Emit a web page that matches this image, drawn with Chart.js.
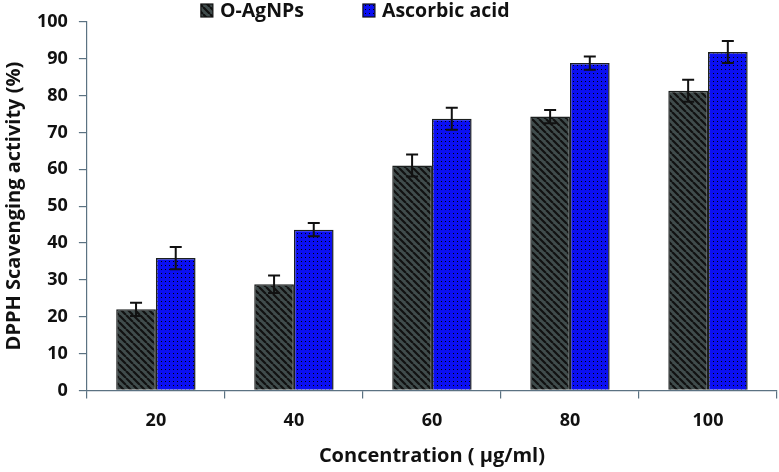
<!DOCTYPE html>
<html>
<head>
<meta charset="utf-8">
<script src="https://cdn.jsdelivr.net/npm/chart.js@4.4.0/dist/chart.umd.min.js"></script>
<style>
  html, body { margin: 0; padding: 0; background: #fff; }
  #wrap { position: relative; width: 779px; height: 472px; }
</style>
</head>
<body>
<div id="wrap"><canvas id="chart"></canvas></div>
<script>
const categories = ["20", "40", "60", "80", "100"]
const agnpValues = [22, 28.8, 61, 74.3, 81.3]
const agnpErrors = [1.8, 2.4, 3, 1.8, 3]
const ascorbicValues = [35.9, 43.6, 73.7, 88.8, 91.8]
const ascorbicErrors = [3, 1.8, 3, 1.8, 3]

const FONT = "'Open Sans', 'Liberation Sans', sans-serif"
const axisColor = "#5b7282"

// hatched gray fill
function stripePattern(){
    const c = document.createElement("canvas")
    c.width = 7; c.height = 7
    const g = c.getContext("2d")
    g.fillStyle = "#404c4c"
    g.fillRect(0, 0, 7, 7)
    g.strokeStyle = "#111"
    g.lineWidth = 2.2
    g.beginPath()
    for(let k = -7; k <= 14; k += 7){
        g.moveTo(k, 0)
        g.lineTo(k + 7, 7)
    }
    g.stroke()
    return g.createPattern(c, "repeat")
}

// dotted blue fill
function dotPattern(){
    const c = document.createElement("canvas")
    c.width = 4; c.height = 4
    const g = c.getContext("2d")
    g.fillStyle = "#0b0ff2"
    g.fillRect(0, 0, 4, 4)
    g.fillStyle = "#000"
    g.fillRect(1, 1, 1, 1)
    return g.createPattern(c, "repeat")
}

const errorBars = {
    id: "errorBars",
    afterDatasetsDraw(chart){
        const ctx = chart.ctx
        const y = chart.scales.y
        chart.data.datasets.forEach((ds, i) => {
            const meta = chart.getDatasetMeta(i)
            meta.data.forEach((bar, j) => {
                const v = ds.data[j], e = ds.errors[j]
                const top = y.getPixelForValue(v + e)
                const bot = y.getPixelForValue(v - e)
                ctx.save()
                ctx.strokeStyle = "#111"
                ctx.lineWidth = 2
                ctx.beginPath()
                ctx.moveTo(bar.x, top); ctx.lineTo(bar.x, bot)
                ctx.moveTo(bar.x - 6, top); ctx.lineTo(bar.x + 6, top)
                ctx.moveTo(bar.x - 6, bot); ctx.lineTo(bar.x + 6, bot)
                ctx.stroke()
                ctx.restore()
            })
        })
    }
}

// legend drawn above the plot, left of centre like the original
const topLegend = {
    id: "topLegend",
    afterDraw(chart){
        const ctx = chart.ctx
        const area = chart.chartArea
        let x = area.left + 114
        const y = 11
        ctx.save()
        ctx.font = "bold 19.5px " + FONT
        ctx.textBaseline = "middle"
        chart.data.datasets.forEach((ds) => {
            ctx.fillStyle = ds.backgroundColor
            ctx.fillRect(x, y - 7, 12, 13)
            ctx.strokeStyle = "#111"
            ctx.lineWidth = 1.2
            ctx.strokeRect(x, y - 7, 12, 13)
            ctx.fillStyle = "#111"
            ctx.fillText(ds.label, x + 19, y)
            x += 19 + ctx.measureText(ds.label).width + 59
        })
        ctx.restore()
    }
}

const ctx = document.getElementById("chart").getContext("2d")
new Chart(ctx, {
    type: "bar",
    data: {
        labels: categories,
        datasets: [
            {
                label: "O-AgNPs",
                data: agnpValues,
                errors: agnpErrors,
                backgroundColor: stripePattern(),
                borderColor: "#1b1f1f",
                borderWidth: 1.5,
                categoryPercentage: 0.575,
                barPercentage: 1.0,
            },
            {
                label: "Ascorbic acid",
                data: ascorbicValues,
                errors: ascorbicErrors,
                backgroundColor: dotPattern(),
                borderColor: "#1b1f1f",
                borderWidth: 1.5,
                categoryPercentage: 0.575,
                barPercentage: 1.0,
            }
        ]
    },
    options: {
        responsive: true,
        maintainAspectRatio: false,
        animation: false,
        layout: { padding: { top: 3, right: 2, left: 0, bottom: 4 } },
        plugins: {
            tooltip: { enabled: false },
            legend: { display: false },
        },
        scales: {
            x: {
                grid: { drawOnChartArea: false, offset: true, tickLength: 8, color: axisColor, lineWidth: 1.2 },
                border: { color: axisColor, width: 1.2 },
                ticks: { font: { family: FONT, size: 18, weight: "bold" }, color: "#111", padding: 12 },
                title: {
                    display: true,
                    text: "Concentration ( µg/ml)",
                    font: { family: FONT, size: 20, weight: "bold" },
                    color: "#111",
                    padding: { top: 0, bottom: 0 },
                },
            },
            y: {
                min: 0,
                max: 100,
                grid: { drawOnChartArea: false, tickLength: 8, color: axisColor, lineWidth: 1.2 },
                border: { color: axisColor, width: 1.2 },
                ticks: { stepSize: 10, font: { family: FONT, size: 18, weight: "bold" }, color: "#111", padding: 11 },
                title: {
                    display: true,
                    text: "DPPH Scavenging activity (%)",
                    font: { family: FONT, size: 20, weight: "bold" },
                    color: "#111",
                    padding: { top: 2, bottom: 0 },
                },
            },
        },
    },
    plugins: [errorBars, topLegend]
})
</script>
</body>
</html>
